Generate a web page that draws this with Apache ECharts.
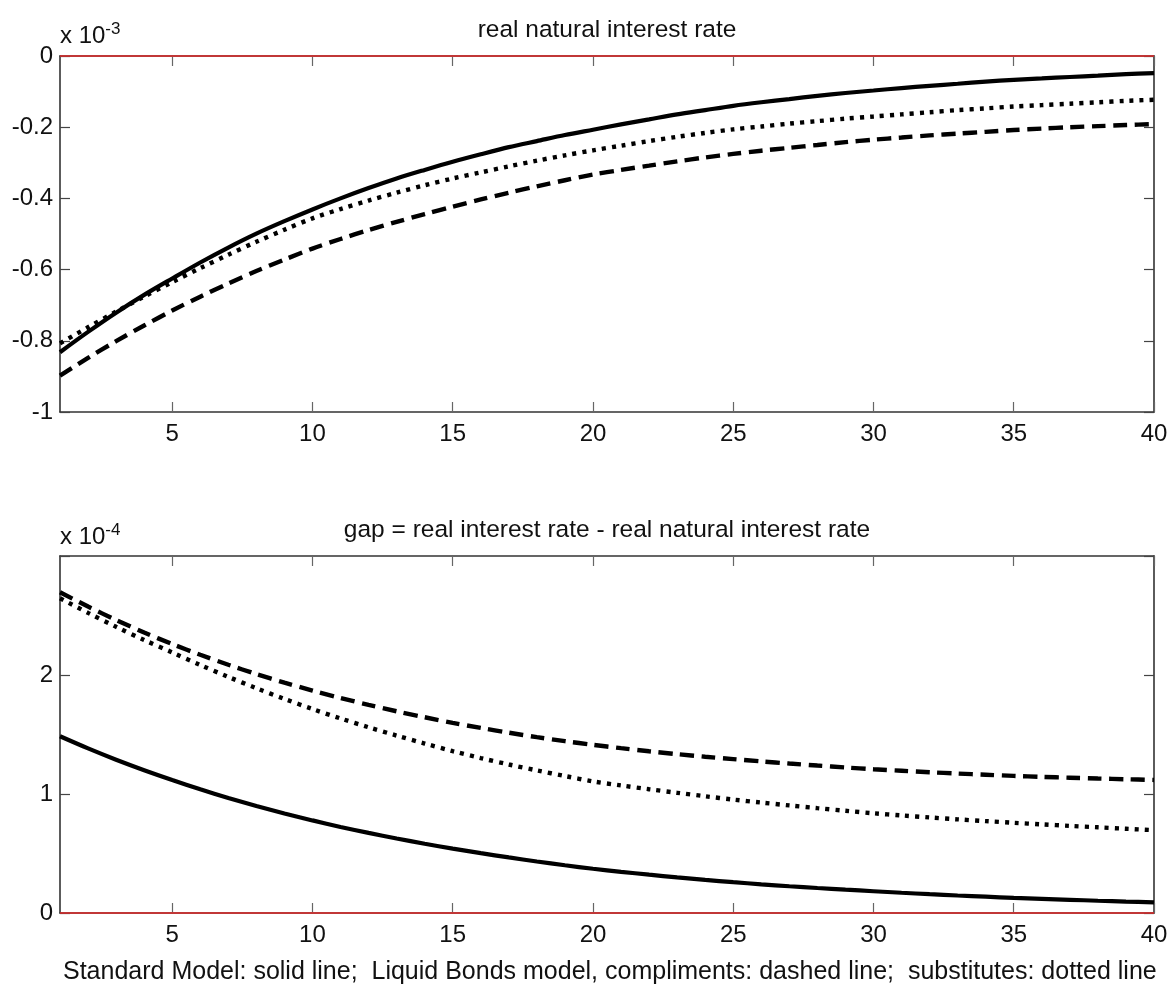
<!DOCTYPE html>
<html>
<head>
<meta charset="utf-8">
<script src="https://cdn.jsdelivr.net/npm/echarts@6/dist/echarts.min.js"></script>
<style>
html,body{margin:0;padding:0;background:#fff;}
#chart{width:1171px;height:992px;}
</style>
</head>
<body>
<div id="chart"></div>
<script>
// periods on the x axis
var periods = [1,2,3,4,5,6,7,8,9,10,11,12,13,14,15,16,17,18,19,20,
  21,22,23,24,25,26,27,28,29,30,31,32,33,34,35,36,37,38,39,40];
var xTicks = [5,10,15,20,25,30,35,40];

// real natural interest rate, x 10^-3
var natStandard = [-0.832,-0.775,-0.721,-0.671,-0.625,-0.580,-0.538,-0.499,-0.464,-0.431,
  -0.400,-0.371,-0.344,-0.320,-0.297,-0.276,-0.256,-0.239,-0.222,-0.207,
  -0.192,-0.178,-0.164,-0.152,-0.140,-0.130,-0.121,-0.112,-0.104,-0.097,
  -0.090,-0.084,-0.078,-0.072,-0.067,-0.063,-0.059,-0.055,-0.051,-0.048];
var natSubst = [-0.807,-0.762,-0.718,-0.676,-0.635,-0.596,-0.558,-0.522,-0.488,-0.456,
  -0.430,-0.406,-0.384,-0.363,-0.344,-0.327,-0.310,-0.294,-0.279,-0.265,
  -0.252,-0.239,-0.227,-0.216,-0.206,-0.198,-0.190,-0.183,-0.176,-0.170,
  -0.164,-0.158,-0.152,-0.147,-0.142,-0.138,-0.134,-0.130,-0.126,-0.123];
var natCompl = [-0.898,-0.848,-0.801,-0.757,-0.715,-0.676,-0.639,-0.604,-0.572,-0.541,
  -0.514,-0.489,-0.466,-0.444,-0.423,-0.403,-0.384,-0.366,-0.349,-0.333,
  -0.320,-0.308,-0.296,-0.285,-0.275,-0.266,-0.258,-0.250,-0.242,-0.235,
  -0.229,-0.223,-0.218,-0.213,-0.208,-0.204,-0.200,-0.197,-0.194,-0.191];

// gap, x 10^-4
var gapStandard = [1.485,1.383,1.288,1.200,1.118,1.040,0.967,0.899,0.836,0.778,
  0.723,0.673,0.626,0.582,0.541,0.503,0.467,0.433,0.401,0.372,
  0.346,0.322,0.299,0.278,0.259,0.241,0.225,0.210,0.196,0.183,
  0.170,0.158,0.147,0.137,0.127,0.119,0.111,0.103,0.096,0.090];
var gapSubst = [2.645,2.522,2.405,2.294,2.190,2.084,1.984,1.889,1.799,1.714,
  1.635,1.561,1.491,1.424,1.360,1.302,1.248,1.198,1.151,1.106,
  1.072,1.040,1.010,0.981,0.953,0.928,0.904,0.881,0.859,0.838,
  0.820,0.803,0.787,0.772,0.758,0.745,0.732,0.720,0.708,0.696];
var gapCompl = [2.696,2.575,2.462,2.357,2.260,2.170,2.086,2.008,1.936,1.869,
  1.807,1.749,1.695,1.645,1.598,1.555,1.515,1.478,1.444,1.413,
  1.385,1.359,1.335,1.313,1.293,1.274,1.256,1.239,1.223,1.208,
  1.195,1.183,1.172,1.162,1.152,1.144,1.137,1.130,1.124,1.118];

var FONT = '"Liberation Sans", Arial, sans-serif';
var FS = 24;
var AXC = '#333';

function pairs(ys){
  return periods.map(function(p,i){ return [p, ys[i]]; });
}

function xAx(grid, pos, labels){
  return {
    type:'value', gridIndex:grid, position:pos, min:1, max:40,
    axisLine:{onZero:false, lineStyle:{color:AXC, width:1.6}},
    axisTick:{inside:true, length:10, customValues:xTicks, lineStyle:{color:'#666', width:1.2}},
    axisLabel:{show:labels, customValues:xTicks, margin:10, color:'#111', fontFamily:FONT, fontSize:FS},
    splitLine:{show:false}
  };
}
function yAx(grid, pos, labels, min, max, step, fmt){
  return {
    type:'value', gridIndex:grid, position:pos, min:min, max:max, interval:step,
    axisLine:{onZero:false, lineStyle:{color:AXC, width:1.6}},
    axisTick:{inside:true, length:10, lineStyle:{color:'#444', width:1.2}},
    axisLabel:{show:labels, margin:7, color:'#111', fontFamily:FONT, fontSize:FS, formatter:fmt},
    splitLine:{show:false}
  };
}

function line(name, xi, yi, data, kind, zero){
  var s = {
    name:name, type:'line', xAxisIndex:xi, yAxisIndex:yi,
    data:pairs(data), showSymbol:false, smooth:0.3, animation:false,
    lineStyle:{color:'#000', width:kind==='solid'?4.2:4.4, cap:'butt',
      type:kind==='solid'?'solid':(kind==='dashed'?[14,7.5]:[4,6])}
  };
  if(zero){
    s.markLine = {silent:true, symbol:'none', animation:false, label:{show:false},
      lineStyle:{color:'#e02828', type:'solid', width:1.6}, data:[{yAxis:0}]};
  }
  return s;
}

var chart = echarts.init(document.getElementById('chart'));
chart.setOption({
  backgroundColor:'#fff',
  animation:false,
  grid:[
    {left:60, top:56, right:17, height:356},
    {left:60, top:556, right:17, height:357}
  ],
  xAxis:[ xAx(0,'bottom',true), xAx(0,'top',false), xAx(1,'bottom',true), xAx(1,'top',false) ],
  yAxis:[
    yAx(0,'left',true,-1,0,0.2, function(v){ return String(Math.round(v*10)/10); }),
    yAx(0,'right',false,-1,0,0.2),
    yAx(1,'left',true,0,3,1, function(v){ return v===3?'':String(v); }),
    yAx(1,'right',false,0,3,1)
  ],
  series:[
    line('standard',0,0,natStandard,'solid',true),
    line('substitutes',0,0,natSubst,'dotted',false),
    line('compliments',0,0,natCompl,'dashed',false),
    line('standard',2,2,gapStandard,'solid',true),
    line('substitutes',2,2,gapSubst,'dotted',false),
    line('compliments',2,2,gapCompl,'dashed',false)
  ],
  graphic:[
    {type:'text', x:607, y:30, style:{text:'real natural interest rate', fill:'#111', font:'24.5px '+FONT, textAlign:'center', textVerticalAlign:'middle'}},
    {type:'text', x:607, y:530, style:{text:'gap = real interest rate - real natural interest rate', fill:'#111', font:'24.5px '+FONT, textAlign:'center', textVerticalAlign:'middle'}},
    {type:'text', x:60, y:36, style:{text:'x 10{s|-3}', fill:'#111', font:FS+'px '+FONT, textVerticalAlign:'middle',
      rich:{s:{fontSize:17, fontFamily:FONT, fill:'#111', verticalAlign:'top', padding:[0,0,14,0]}}}},
    {type:'text', x:60, y:537, style:{text:'x 10{s|-4}', fill:'#111', font:FS+'px '+FONT, textVerticalAlign:'middle',
      rich:{s:{fontSize:17, fontFamily:FONT, fill:'#111', verticalAlign:'top', padding:[0,0,14,0]}}}},
    {type:'text', x:63, y:972, style:{text:'Standard Model: solid line;  Liquid Bonds model, compliments: dashed line;  substitutes: dotted line', fill:'#111', font:'25px '+FONT, textVerticalAlign:'middle'}}
  ]
});
</script>
</body>
</html>
